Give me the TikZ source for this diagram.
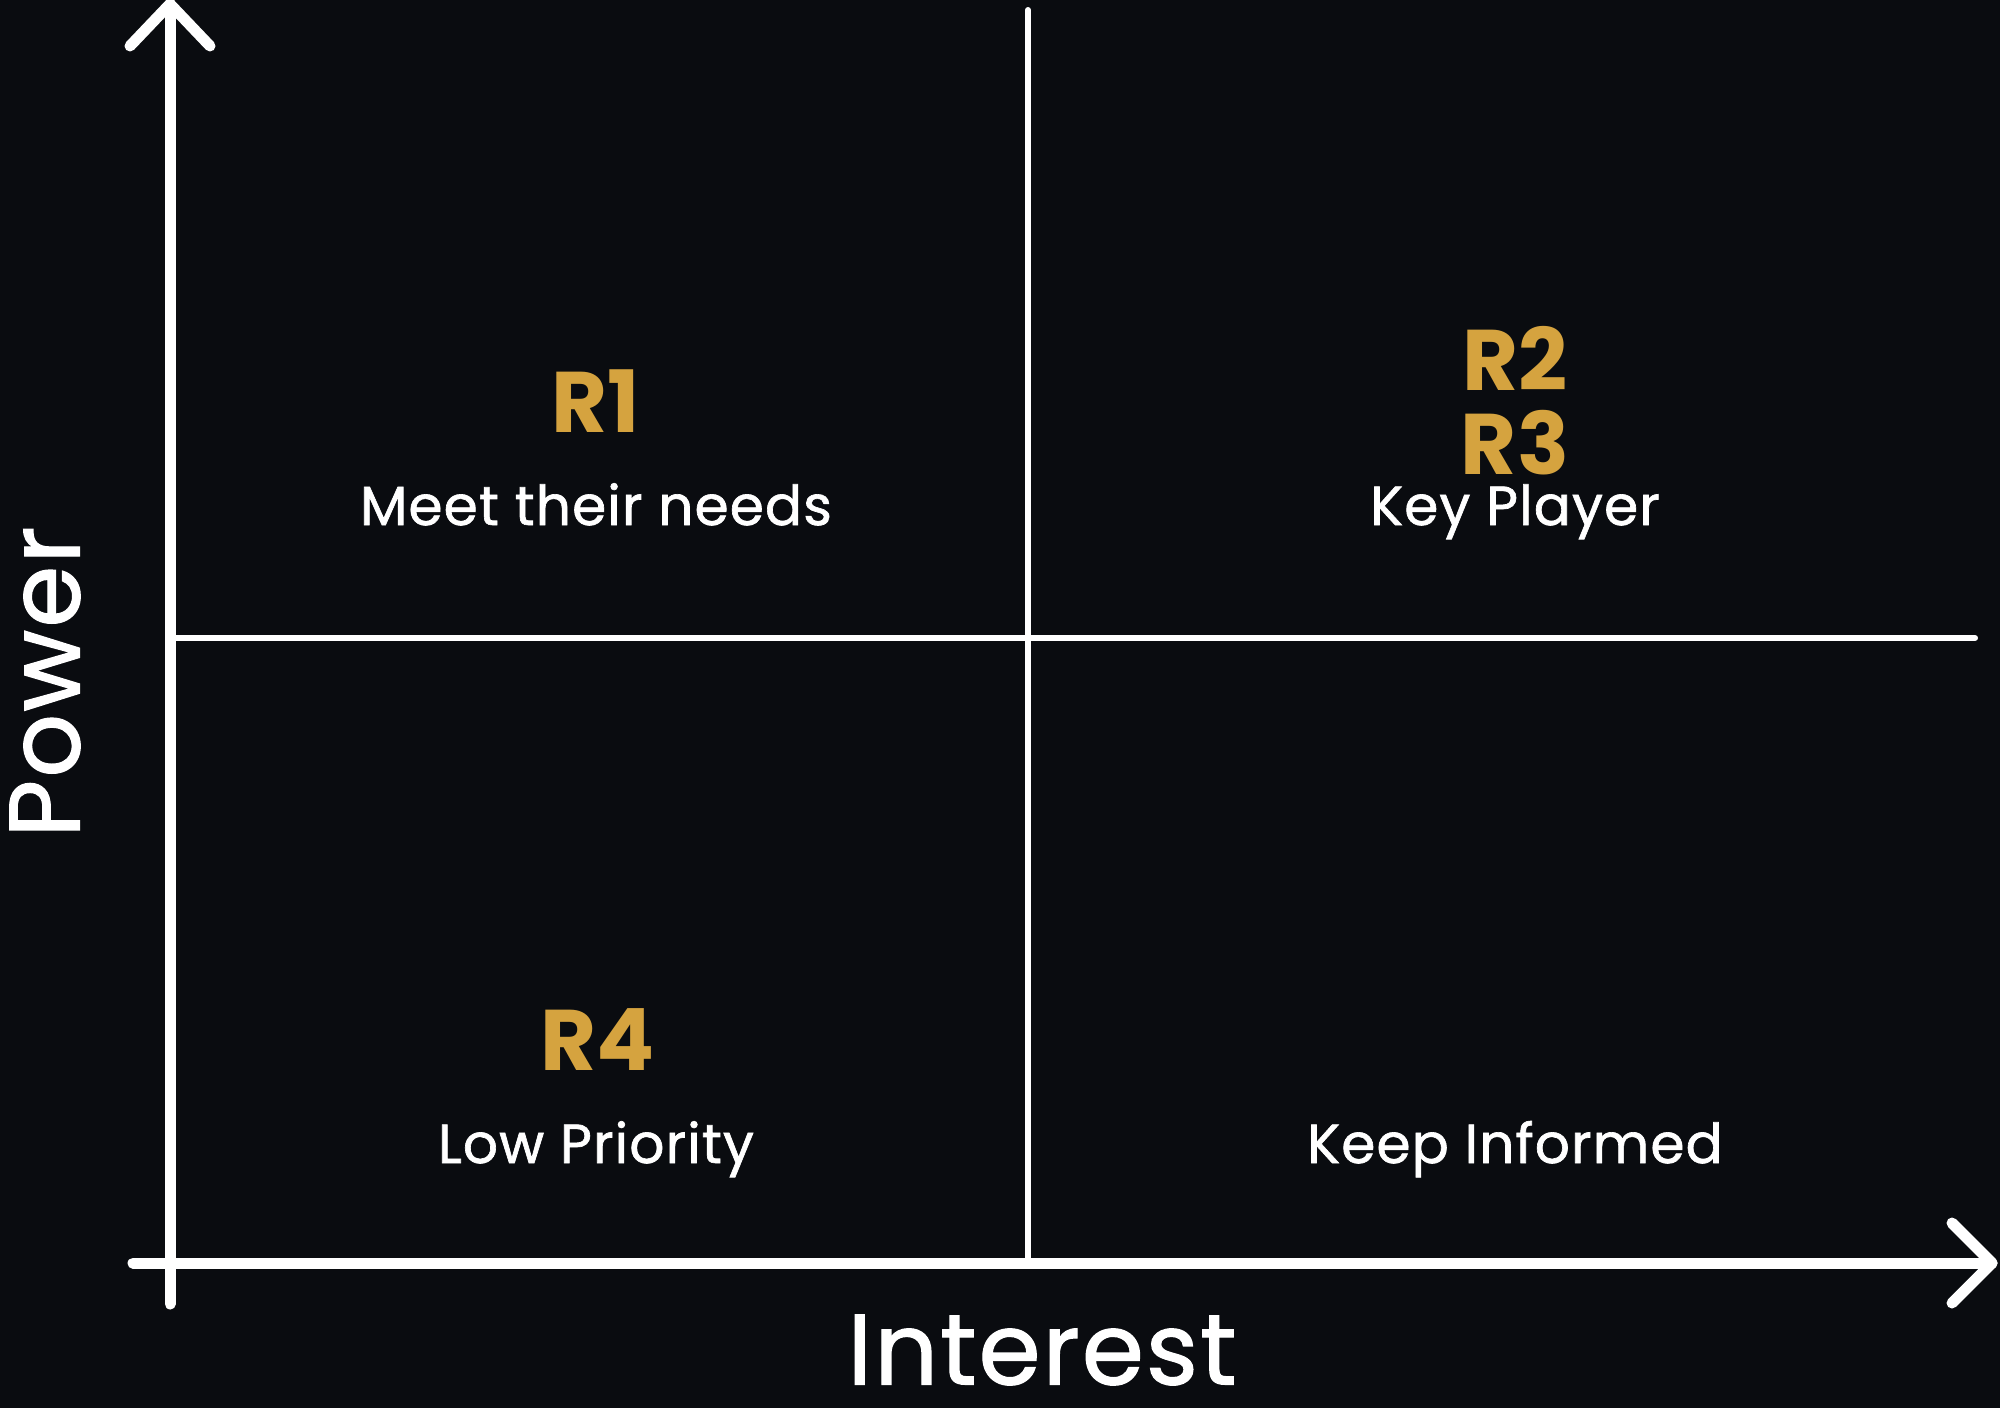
\documentclass[tikz,border=0pt]{standalone}
\usepackage{fontspec}
\setmainfont{Poppins}
\newfontface\medfont{Poppins}[FakeBold=1.2,LetterSpace=2]
\definecolor{bg}{HTML}{0A0C10}
\definecolor{gold}{HTML}{D5A33F}
\begin{document}
\begin{tikzpicture}[x=1pt,y=-1pt,
  axis/.style={draw=white,line width=11pt,line cap=round,line join=round},
  divider/.style={draw=white,line width=6pt,line cap=round},
  rlabel/.style={text=gold,font=\fontsize{86}{90}\selectfont\bfseries,inner sep=0pt,anchor=base},
  qlabel/.style={text=white,font=\medfont\fontsize{55}{60}\selectfont,inner sep=0pt,anchor=base},
  axlabel/.style={text=white,font=\medfont\fontsize{100}{110}\selectfont,inner sep=0pt}]
\fill[bg] (0,0) rectangle (2000,1408);
\useasboundingbox (0,0) rectangle (2000,1408);
% axes
\coordinate (ytop) at (170,4);
\coordinate (ybot) at (170,1304);
\coordinate (xleft) at (133,1263);
\coordinate (xright) at (1992,1263);
\coordinate (vtop) at (1028,10);
\coordinate (vbot) at (1028,1263);
\coordinate (hleft) at (175,638);
\coordinate (hright) at (1975,638);
\draw[divider] (vtop) -- (vbot);
\draw[divider] (hleft) -- (hright);
\draw[axis] (ybot) -- (ytop);
\draw[axis] (130,46) -- (ytop) -- (210,46);
\draw[axis] (xleft) -- (xright);
\draw[axis] (1952,1223) -- (xright) -- (1952,1303);
% labels
\node[rlabel] (r1) at (596,432) {R1};
\node[qlabel] (q1) at (596,525) {Meet their needs};
\node[rlabel] (r2) at (1515,390) {R2};
\node[rlabel] (r3) at (1515,474) {R3};
\node[qlabel] (q2) at (1515,525) {Key Player};
\node[rlabel] (r4) at (598,1070) {R4};
\node[qlabel] (q3) at (596,1163) {Low Priority};
\node[qlabel] (q4) at (1515,1163) {Keep Informed};
\node[axlabel,rotate=90] (pw) at (45,682) {Power};
\node[axlabel] (in) at (1042,1350) {Interest};
\end{tikzpicture}
\end{document}
